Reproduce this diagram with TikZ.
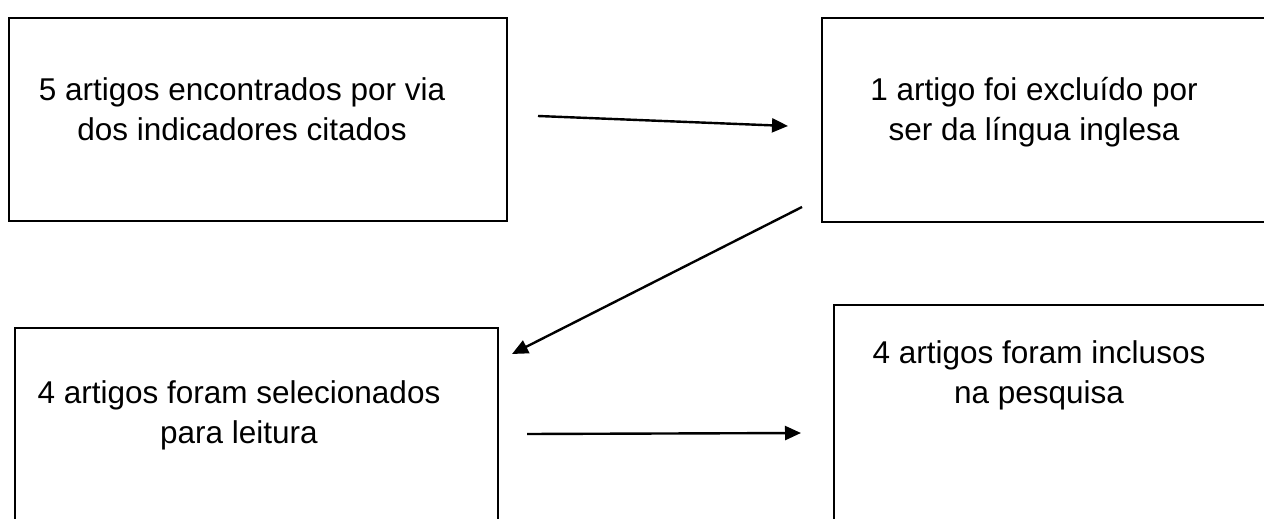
\documentclass[tikz,border=0pt]{standalone}
\usepackage{fontspec}
\setmainfont{Liberation Sans}
\usepackage{tikz}
\usetikzlibrary{positioning,calc}
\usetikzlibrary{arrows.meta}

\begin{document}
\begin{tikzpicture}[
  x = 1pt,
  y = -1pt,
  box/.style = {
    draw,
    rectangle,
    line width = 2.8pt,
    inner sep = 0pt,
  },
  txt/.style = {
    align = center,
    anchor = north,
    inner sep = 0pt,
    font = \fontsize{31.5}{40}\selectfont,
  },
  arrow/.style = {->, line width = 2.4pt},
  >={Triangle[length=16pt,width=14pt]},
]

  \useasboundingbox (0,0) rectangle (1264,519);
  \clip (0,0) rectangle (1264,519);

  % boxes
  \node[box, minimum width = 498pt, minimum height = 203pt] (found) at (258,119.5) {};
  \node[box, minimum width = 458pt, minimum height = 204pt] (excl) at (1051,120) {};
  \node[box, minimum width = 483pt, minimum height = 212pt] (sel) at (256.5,434) {};
  \node[box, minimum width = 446pt, minimum height = 235pt] (incl) at (1057,422.5) {};

  % texts
  \node[txt] (foundtxt) at (242,77.4) {5 artigos encontrados por via\\dos indicadores citados};
  \node[txt] (excltxt) at (1034,77) {1 artigo foi excluído por\\ser da língua inglesa};
  \node[txt] (seltxt) at (239,380.4) {4 artigos foram selecionados\\para leitura};
  \node[txt] (incltxt) at (1039,340.4) {4 artigos foram inclusos\\na pesquisa};

  % arrows
  \coordinate (a1s) at (538,116);
  \coordinate (a1e) at (788,126);
  \coordinate (a2s) at (802,207);
  \coordinate (a2e) at (512,354);
  \coordinate (a3s) at (527,434);
  \coordinate (a3e) at (801,433);
  \draw[arrow] (a1s) -- (a1e);
  \draw[arrow] (a2s) -- (a2e);
  \draw[arrow] (a3s) -- (a3e);

\end{tikzpicture}
\end{document}
